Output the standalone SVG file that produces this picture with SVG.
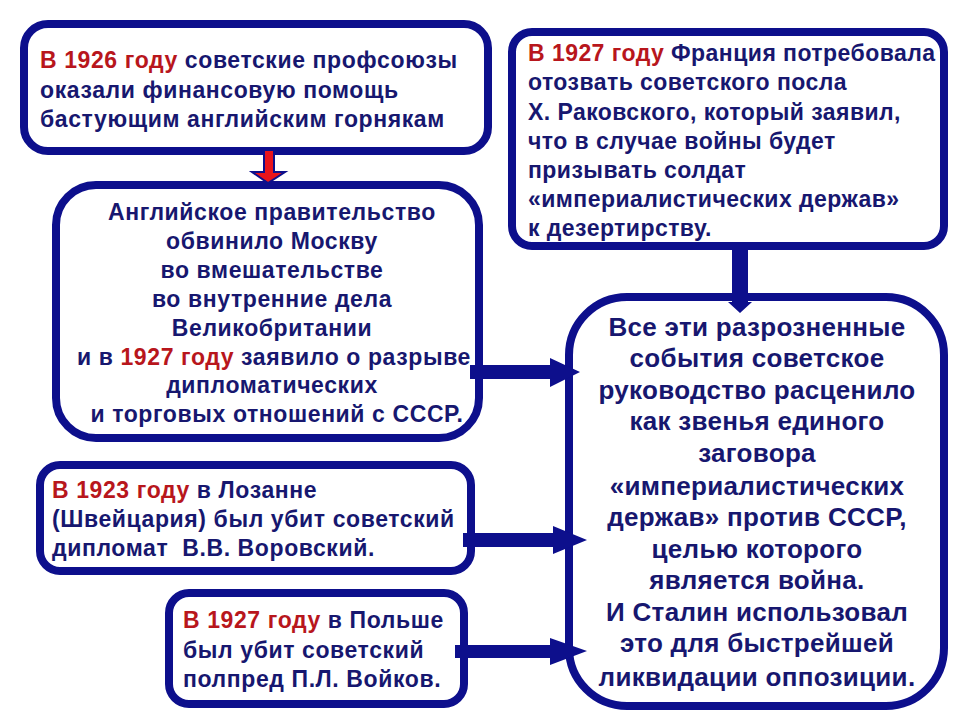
<svg xmlns="http://www.w3.org/2000/svg" width="960" height="720" viewBox="0 0 960 720">
<style>
.box{fill:#fff;stroke:#0d0f8c;stroke-width:8}
.t{font-family:"Liberation Sans",Arial,sans-serif;font-weight:bold;fill:#17176f}
.s{font-size:23px;letter-spacing:0.6px}
.f{font-size:23px;letter-spacing:0.45px}
.b{font-size:26px;letter-spacing:0.3px}
.r{fill:#b8161c}
.c{text-anchor:middle}
.arr{fill:#0d0f8c}
</style>
<rect width="960" height="720" fill="#fff"/>
<g id="box1">
<rect class="box" x="24" y="24" width="464" height="127" rx="24"/>
<text class="t s" x="40" y="68"><tspan class="r">В 1926 году</tspan> советские профсоюзы</text>
<text class="t s" x="40" y="98">оказали финансовую помощь</text>
<text class="t s" x="40" y="127">бастующим английским горнякам</text>
</g>
<g id="box-france">
<rect class="box" x="512" y="32" width="432" height="214" rx="20"/>
<text class="t f" x="528" y="61"><tspan class="r">В 1927 году</tspan> Франция потребовала</text>
<text class="t f" x="528" y="90">отозвать советского посла</text>
<text class="t f" x="528" y="120">Х. Раковского, который заявил,</text>
<text class="t f" x="528" y="149">что в случае войны будет</text>
<text class="t f" x="528" y="178">призывать солдат</text>
<text class="t f" x="528" y="207">«империалистических держав»</text>
<text class="t f" x="528" y="236">к дезертирству.</text>
</g>
<g id="box2">
<rect class="box" x="56" y="185" width="423" height="253" rx="40"/>
<text class="t s c" x="272" y="220">Английское правительство</text>
<text class="t s c" x="272" y="249">обвинило Москву</text>
<text class="t s c" x="272" y="278">во вмешательстве</text>
<text class="t s c" x="272" y="307">во внутренние дела</text>
<text class="t s c" x="272" y="336">Великобритании</text>
<text class="t s c" x="274" y="365">и в <tspan class="r">1927 году</tspan> заявило о разрыве</text>
<text class="t s c" x="272" y="393">дипломатических</text>
<text class="t s c" x="277" y="422">и торговых отношений с СССР.</text>
</g>
<g id="box3">
<rect class="box" x="40" y="465" width="431" height="106" rx="20"/>
<text class="t s" x="52" y="498"><tspan class="r">В 1923 году</tspan> в Лозанне</text>
<text class="t s" x="52" y="527">(Швейцария) был убит советский</text>
<text class="t s" x="52" y="556">дипломат&#160; В.В. Воровский.</text>
</g>
<g id="box4">
<rect class="box" x="169" y="593" width="295" height="111" rx="20"/>
<text class="t s" x="183" y="628"><tspan class="r">В 1927 году</tspan> в Польше</text>
<text class="t s" x="183" y="658">был убит советский</text>
<text class="t s" x="183" y="687">полпред П.Л. Войков.</text>
</g>
<g id="box-main">
<rect class="box" x="569" y="297" width="375" height="409" rx="58"/>
<text class="t b c" x="757" y="336">Все эти разрозненные</text>
<text class="t b c" x="757" y="367">события советское</text>
<text class="t b c" x="757" y="399">руководство расценило</text>
<text class="t b c" x="757" y="430">как звенья единого</text>
<text class="t b c" x="757" y="462">заговора</text>
<text class="t b c" x="757" y="495">«империалистических</text>
<text class="t b c" x="757" y="526">держав» против СССР,</text>
<text class="t b c" x="757" y="558">целью которого</text>
<text class="t b c" x="757" y="589">является война.</text>
<text class="t b c" x="757" y="621">И Сталин использовал</text>
<text class="t b c" x="757" y="652">это для быстрейшей</text>
<text class="t b c" x="757" y="686">ликвидации оппозиции.</text>
</g>
<g id="connectors">
<path d="M264,150 H274 V172 H285 L268,183 L252,172 H264 Z" fill="#e8141c" stroke="#0d0f8c" stroke-width="2" stroke-linejoin="miter"/>
<path class="arr" d="M732,246 H748 V302 H752 L740,313 L728,302 H732 Z"/>
<path class="arr" d="M470,365 H550 V358 L580,372 L550,387 V379 H470 Z"/>
<path class="arr" d="M463,533 H553 V526 L587,540 L553,554 V547 H463 Z"/>
<path class="arr" d="M455,645 H550 V638 L587,651 L550,665 V658 H455 Z"/>
</g>
</svg>
